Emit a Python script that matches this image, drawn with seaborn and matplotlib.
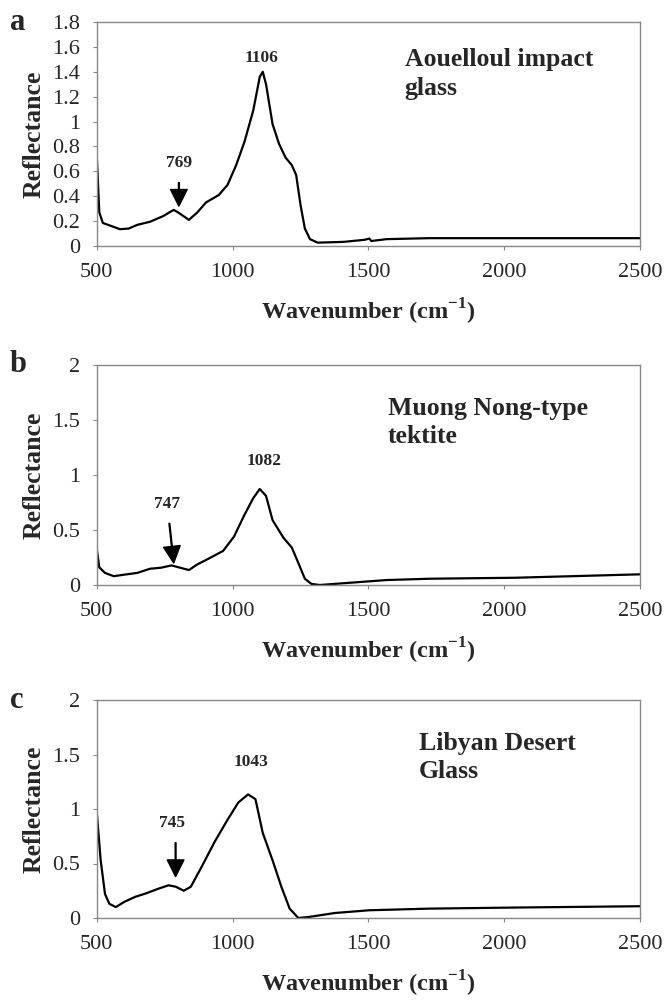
import matplotlib
matplotlib.use("Agg")
import matplotlib.pyplot as plt
import seaborn as sns
import pandas as pd
import numpy as np

# spectra (wavenumber cm-1, reflectance)
wn_a = [500, 509, 522, 554, 585, 617, 649, 696, 744, 767, 783, 799, 839, 870, 902, 949, 981,
        1013, 1044, 1076, 1100, 1111, 1123, 1147, 1171, 1195, 1218, 1234, 1250, 1266, 1285, 1313,
        1408, 1487, 1503, 1511, 1566, 1725, 2041, 2500]
refl_a = [0.71, 0.27, 0.185, 0.16, 0.135, 0.14, 0.17, 0.195, 0.24, 0.27, 0.29, 0.27, 0.21, 0.27,
          0.35, 0.41, 0.49, 0.65, 0.84, 1.09, 1.36, 1.40, 1.30, 0.98, 0.82, 0.71, 0.65, 0.57, 0.33,
          0.14, 0.055, 0.027, 0.033, 0.05, 0.06, 0.04, 0.055, 0.063, 0.063, 0.063]

wn_b = [500, 509, 530, 562, 601, 649, 696, 736, 775, 807, 839, 870, 918, 965, 1005, 1044, 1076,
        1100, 1123, 1147, 1187, 1218, 1242, 1266, 1290, 1321, 1566, 1725, 2041, 2500]
refl_b = [0.32, 0.16, 0.11, 0.08, 0.094, 0.11, 0.148, 0.157, 0.178, 0.157, 0.136, 0.187, 0.248,
          0.31, 0.44, 0.64, 0.79, 0.873, 0.81, 0.59, 0.43, 0.34, 0.20, 0.057, 0.01, 0.0, 0.045,
          0.057, 0.066, 0.097]

wn_c = [500, 514, 530, 546, 570, 601, 641, 680, 728, 764, 791, 820, 846, 886, 934, 981, 1021,
        1057, 1084, 1111, 1147, 1179, 1210, 1242, 1282, 1377, 1503, 1725, 2041, 2500]
refl_c = [0.96, 0.53, 0.22, 0.13, 0.10, 0.148, 0.194, 0.225, 0.27, 0.30, 0.287, 0.25, 0.287, 0.47,
          0.70, 0.90, 1.06, 1.134, 1.09, 0.78, 0.53, 0.29, 0.086, 0.0, 0.01, 0.046, 0.071, 0.086,
          0.096, 0.108]

panel_letters = ["a", "b", "c"]
sample_names = ["Aouelloul impact\nglass", "Muong Nong-type\ntektite", "Libyan Desert\nGlass"]
peak_main = ["1106", "1082", "1043"]
peak_minor = ["769", "747", "745"]
y_ticks = [np.round(np.arange(0, 1.81, 0.2), 1), [0, 0.5, 1, 1.5, 2], [0, 0.5, 1, 1.5, 2]]
x_ticks = [500, 1000, 1500, 2000, 2500]

sns.set_style("white")
plt.rcParams["font.family"] = ["Liberation Serif", "DejaVu Serif"]
plt.rcParams["mathtext.fontset"] = "custom"
plt.rcParams["mathtext.rm"] = "Liberation Serif:bold"

fig = plt.figure(figsize=(6.68, 10), dpi=100)
boxes = [[0.145, 0.754, 0.813, 0.224], [0.145, 0.415, 0.813, 0.220], [0.145, 0.082, 0.813, 0.218]]

spectra = [(wn_a, refl_a), (wn_b, refl_b), (wn_c, refl_c)]
# text / arrow placement per panel
main_pos = [(1106, 1.51), (1115, 1.13), (1069, 1.43)]
minor_pos = [(802, 0.67), (759, 0.74), (775, 0.87)]
arrow_from = [(802, 0.51), (767, 0.56), (790, 0.69)]
arrow_to = [(802, 0.32), (783, 0.20), (790, 0.38)]
name_pos = [(1633, 1.59), (1571, 1.71), (1685, 1.71)]
ymax = [1.8, 2, 2]

for i, box in enumerate(boxes):
    ax = fig.add_axes(box)
    df = pd.DataFrame({"wn": spectra[i][0], "refl": spectra[i][1]})
    sns.lineplot(data=df, x="wn", y="refl", color="black", linewidth=1.6, ax=ax)
    ax.set_xlim(500, 2500)
    ax.set_ylim(0, ymax[i])
    ax.set_xticks(x_ticks)
    ax.set_yticks(y_ticks[i])
    ax.set_yticklabels([f"{v:g}" for v in y_ticks[i]])
    ax.tick_params(labelsize=16, length=3, color="#888888", direction="out", left=True, bottom=True)
    ax.tick_params(axis="x", pad=9)
    ax.tick_params(axis="y", pad=9)
    for s in ax.spines.values():
        s.set_color("#888888")
        s.set_linewidth(1.0)
    ax.set_xlabel(r"Wavenumber (cm$^{\mathregular{-1}}$)", fontsize=17.5, fontweight="bold", labelpad=11)
    ax.set_ylabel("Reflectance", fontsize=18.5, fontweight="bold", labelpad=5)

    ax.text(main_pos[i][0], main_pos[i][1], peak_main[i], ha="center", va="center",
            fontsize=12.5, fontweight="bold")
    ax.text(minor_pos[i][0], minor_pos[i][1], peak_minor[i], ha="center", va="center",
            fontsize=12.5, fontweight="bold")
    ax.annotate("", xy=arrow_to[i], xytext=arrow_from[i],
                arrowprops=dict(facecolor="black", edgecolor="black", width=0.6,
                                headwidth=12, headlength=12))
    ax.text(name_pos[i][0], name_pos[i][1], sample_names[i], ha="left", va="top",
            fontsize=18.5, fontweight="bold", linespacing=1.3)
    fig.text(0.015, box[1] + box[3], panel_letters[i], fontsize=22, fontweight="bold",
             ha="left", va="center")

fig.savefig("out.png", dpi=100, facecolor="white")
